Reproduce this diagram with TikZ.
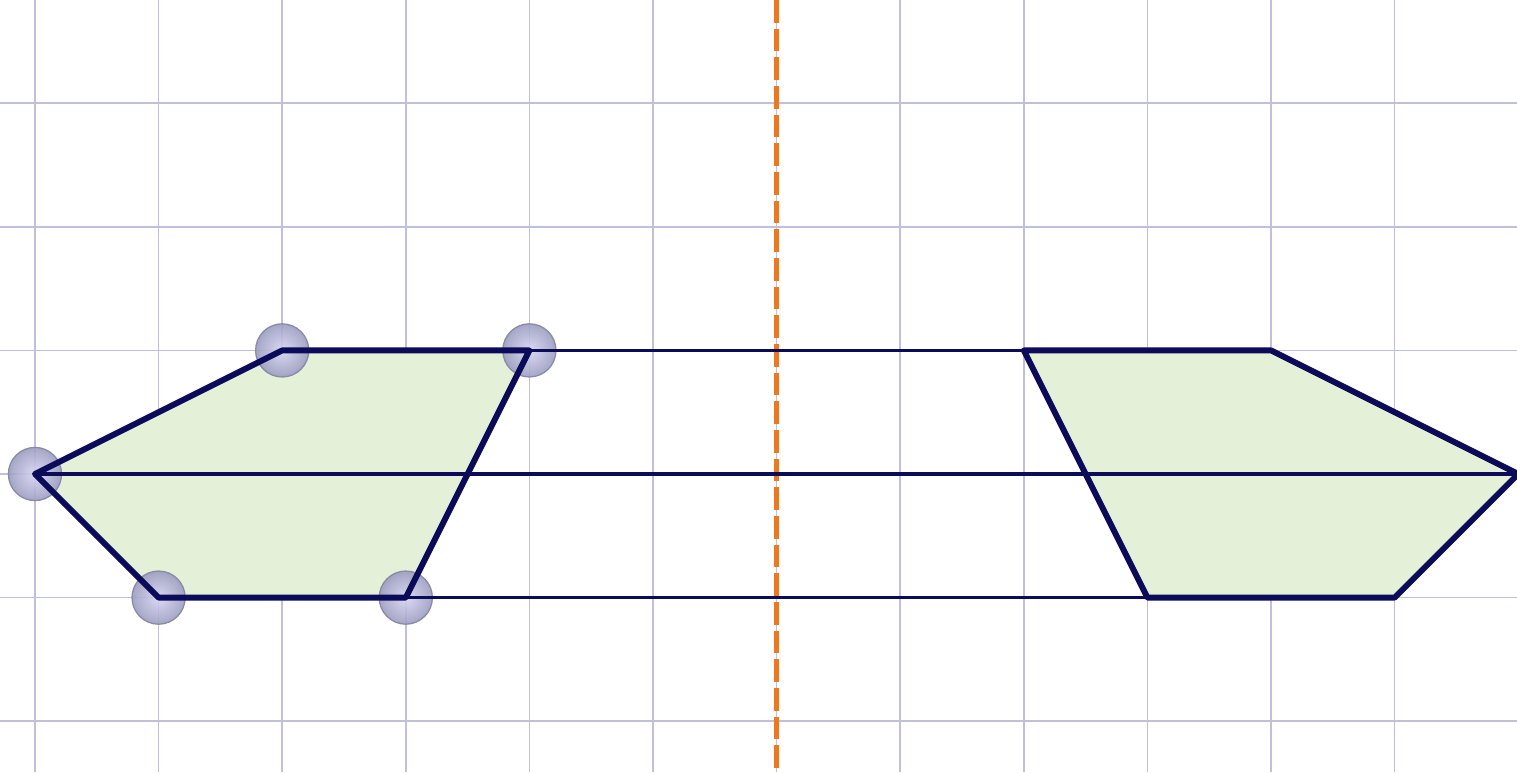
\documentclass[tikz,border=0pt]{standalone}
\usetikzlibrary{calc}
\definecolor{gridc}{HTML}{C0C0DC}
\definecolor{navy}{HTML}{0B0B5A}
\definecolor{fillg}{HTML}{E4F0D8}
\definecolor{axisc}{HTML}{E8792A}
\definecolor{ballin}{HTML}{D6D6F4}
\definecolor{ballout}{HTML}{9C9CC0}
\definecolor{ballrim}{HTML}{8A8AA8}
\tikzset{
  gridline/.style={draw=gridc, line width=0.35pt},
  edge/.style={draw=navy, line width=1.35pt, line join=round},
  link/.style={draw=navy, line width=0.85pt},
  axisline/.style={draw=axisc, line width=1.2pt, dash pattern=on 5.2pt off 1.4pt},
  vball/.style={inner color=ballin, outer color=ballout, draw=ballrim, line width=0.3pt, fill opacity=0.9},
}
\begin{document}
\begin{tikzpicture}
\useasboundingbox (-0.283,-2.411) rectangle (11.99,3.835);
% grid
\foreach \x in {0,...,12} \draw[gridline] (\x,-2.411) -- (\x,3.835);
\foreach \y in {-2,...,3} \draw[gridline] (-0.283,\y) -- (11.99,\y);
% points
\coordinate (A) at (0,0);
\coordinate (B) at (2,1);
\coordinate (C) at (4,1);
\coordinate (D) at (3,-1);
\coordinate (E) at (1,-1);
\coordinate (A2) at (12,0);
\coordinate (B2) at (10,1);
\coordinate (C2) at (8,1);
\coordinate (D2) at (9,-1);
\coordinate (E2) at (11,-1);
\coordinate (Ttop) at (6,3.835);
\coordinate (Tbot) at (6,-2.411);
% fills
\fill[fillg] (A) -- (B) -- (C) -- (D) -- (E) -- cycle;
\fill[fillg] (A2) -- (B2) -- (C2) -- (D2) -- (E2) -- cycle;
% axis
\draw[axisline] (Ttop) -- (Tbot);
% balls
\foreach \p in {A,B,C,D,E} \shade[vball] (\p) circle (0.215);
% links
\draw[link] (B) -- (B2);
\draw[link] (A) -- (A2);
\draw[link] (E) -- (E2);
% outlines
\draw[edge] (A) -- (B) -- (C) -- (D) -- (E) -- cycle;
\draw[edge] (A2) -- (B2) -- (C2) -- (D2) -- (E2) -- cycle;
\end{tikzpicture}
\end{document}
